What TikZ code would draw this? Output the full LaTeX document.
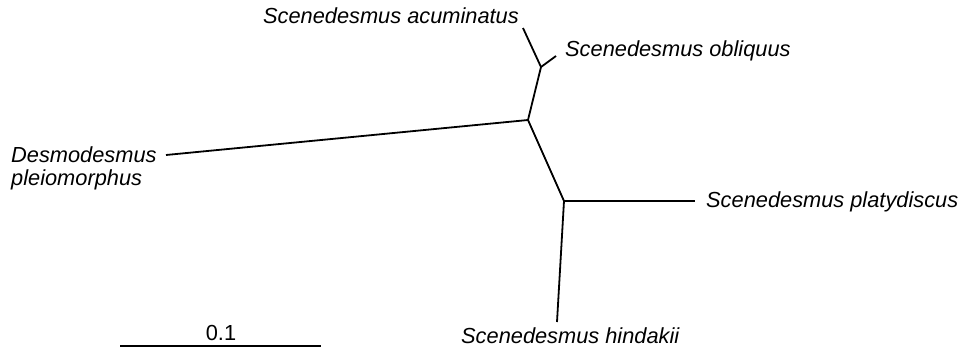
\documentclass[tikz,border=0pt]{standalone}
\usepackage{fontspec}
\setmainfont{Liberation Sans}
\begin{document}
\begin{tikzpicture}[x=1pt,y=-1pt,
  branch/.style={line width=1.8pt,line cap=butt},
  taxon/.style={inner sep=0pt,font=\fontsize{21.8}{22}\selectfont\itshape},
  scalelbl/.style={inner sep=0pt,font=\fontsize{21.8}{22}\selectfont}]
\useasboundingbox (0,0) rectangle (962,351);
% internal nodes
\coordinate (C) at (528,120);
\coordinate (A) at (541,67);
\coordinate (B) at (564,201);
% leaf tips
\coordinate (tAcu) at (523,28);
\coordinate (tObl) at (556,56);
\coordinate (tDes) at (166,155);
\coordinate (tPla) at (695,201);
\coordinate (tHin) at (557,322);
% branches
\draw[branch] (C) -- (A);
\draw[branch] (A) -- (tAcu);
\draw[branch] (A) -- (tObl);
\draw[branch] (C) -- (tDes);
\draw[branch] (C) -- (B);
\draw[branch] (B) -- (tPla);
\draw[branch] (B) -- (tHin);
% taxon labels
\node[taxon,anchor=base east] (lAcu) at (519,23) {Scenedesmus acuminatus};
\node[taxon,anchor=base west] (lObl) at (565,56) {Scenedesmus obliquus};
\node[taxon,anchor=base west] (lPla) at (706,207) {Scenedesmus platydiscus};
\node[taxon,anchor=base west] (lHin) at (461,343) {Scenedesmus hindakii};
\node[taxon,anchor=base west] (lDes1) at (11,162) {Desmodesmus};
\node[taxon,anchor=base west] (lDes2) at (11,185) {pleiomorphus};
% scale bar
\coordinate (sL) at (120,346);
\coordinate (sR) at (321,346);
\draw[branch] (sL) -- (sR);
\node[scalelbl,anchor=base] (sLbl) at (221,340) {0.1};
\end{tikzpicture}
\end{document}
